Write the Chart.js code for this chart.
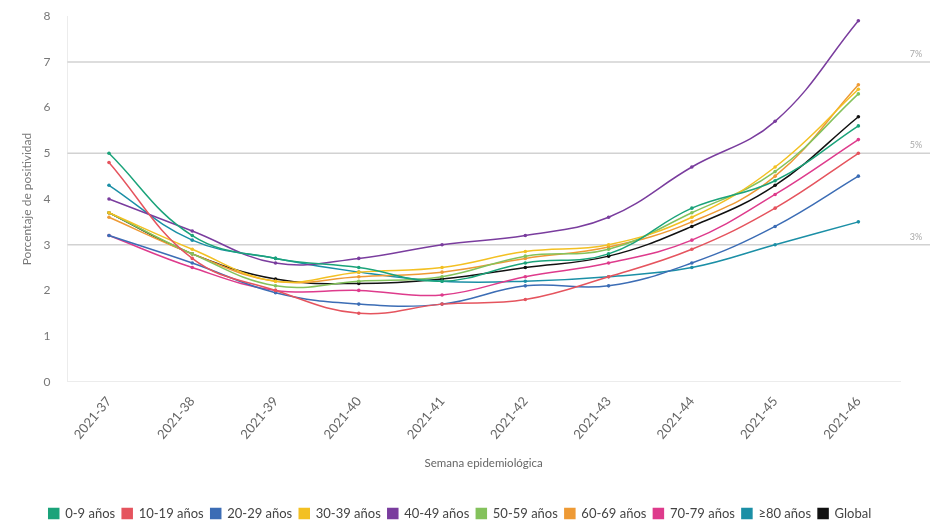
<!DOCTYPE html>
<html>
<head>
<meta charset="utf-8">
<script src="https://cdn.jsdelivr.net/npm/chart.js@4/dist/chart.umd.min.js"></script>
<style>
  html, body { margin: 0; padding: 0; background: #fff; }
  #wrap { width: 937px; height: 530px; }
</style>
</head>
<body>
<div id="wrap"><canvas id="myChart1"></canvas></div>
<script>
const weeks = ['2021-37', '2021-38', '2021-39', '2021-40', '2021-41', '2021-42', '2021-43', '2021-44', '2021-45', '2021-46'];

const g0_9   = [5.0, 3.2, 2.7, 2.5, 2.2, 2.6, 2.8, 3.8, 4.4, 5.6];
const g10_19 = [4.8, 2.7, 2.0, 1.5, 1.7, 1.8, 2.3, 2.9, 3.8, 5.0];
const g20_29 = [3.2, 2.6, 1.95, 1.7, 1.7, 2.1, 2.1, 2.6, 3.4, 4.5];
const g30_39 = [3.7, 2.9, 2.2, 2.4, 2.5, 2.85, 3.0, 3.6, 4.7, 6.4];
const g40_49 = [4.0, 3.3, 2.6, 2.7, 3.0, 3.2, 3.6, 4.7, 5.7, 7.9];
const g50_59 = [3.7, 2.8, 2.1, 2.2, 2.3, 2.75, 2.9, 3.7, 4.6, 6.3];
const g60_69 = [3.6, 2.8, 2.2, 2.3, 2.4, 2.7, 2.95, 3.5, 4.5, 6.5];
const g70_79 = [3.2, 2.5, 2.0, 2.0, 1.9, 2.3, 2.6, 3.1, 4.1, 5.3];
const g80    = [4.3, 3.1, 2.7, 2.4, 2.2, 2.2, 2.3, 2.5, 3.0, 3.5];
const global = [3.7, 2.8, 2.25, 2.15, 2.25, 2.5, 2.75, 3.4, 4.3, 5.8];

const yTicks = [0, 1, 2, 3, 4, 5, 6, 7, 8];
const refLines = [3, 5, 7];

const series = [
  ['0-9 años', g0_9, '#1ba37a'],
  ['10-19 años', g10_19, '#e5545e'],
  ['20-29 años', g20_29, '#3c6db5'],
  ['30-39 años', g30_39, '#f3c022'],
  ['40-49 años', g40_49, '#7a3d9e'],
  ['50-59 años', g50_59, '#84c25c'],
  ['60-69 años', g60_69, '#ee9a35'],
  ['70-79 años', g70_79, '#de3b8c'],
  ['\u226580 años', g80, '#1b8fa6'],
  ['Global', global, '#111111'],
];

const refLinePlugin = {
  id: 'refLines',
  beforeDatasetsDraw(chart) {
    const { ctx, chartArea, scales } = chart;
    ctx.save();
    refLines.forEach(v => {
      const y = scales.y.getPixelForValue(v);
      ctx.strokeStyle = '#d2d2d2';
      ctx.lineWidth = 1.5;
      ctx.beginPath();
      ctx.moveTo(chartArea.left, y);
      ctx.lineTo(chartArea.right + 30, y);
      ctx.stroke();
      ctx.fillStyle = '#a8a8a8';
      ctx.font = '9px Lato';
      ctx.textAlign = 'center';
      ctx.fillText(v + '%', chartArea.right + 16, y - 8);
    });
    ctx.restore();
  }
};

const ctx = document.getElementById('myChart1').getContext('2d');

const data = {
  labels: weeks,
  datasets: series.map(s => ({
    label: s[0],
    data: s[1],
    borderColor: s[2],
    backgroundColor: s[2],
    borderWidth: 1.5,
    pointRadius: 1.8,
    pointBorderWidth: 0,
    tension: 0.4,
  })),
};

const config = {
  type: 'line',
  data: data,
  plugins: [refLinePlugin],
  options: {
    responsive: true,
    maintainAspectRatio: false,
    animation: false,
    layout: { padding: { top: 14, right: 37, left: 20, bottom: 0 } },
    plugins: {
      legend: {
        position: 'bottom',
        labels: {
          boxWidth: 10,
          boxHeight: 10,
          padding: 7,
          color: '#444',
          font: { family: 'Lato', size: 13 },
        },
      },
      tooltip: { enabled: false },
    },
    scales: {
      x: {
        offset: true,
        grid: { display: false },
        border: { color: '#ececec' },
        ticks: {
          color: '#666',
          font: { family: 'Lato', size: 13 },
          minRotation: 50,
          maxRotation: 50,
          padding: 4,
        },
        title: {
          display: true,
          text: 'Semana epidemiológica',
          color: '#666',
          font: { family: 'Lato', size: 11.5 },
          padding: { top: 10, bottom: 30 },
        },
      },
      y: {
        min: 0,
        max: 8,
        afterBuildTicks: axis => { axis.ticks = yTicks.map(v => ({ value: v })); },
        grid: { display: false },
        border: { color: '#ececec' },
        ticks: {
          color: '#777',
          font: { family: 'Lato', size: 12 },
          padding: 9,
        },
        title: {
          display: true,
          text: 'Porcentaje de positividad',
          color: '#777',
          font: { family: 'Lato', size: 12 },
          padding: 0,
        },
      },
    },
  },
};

const myChart = new Chart(ctx, config);
</script>
</body>
</html>
